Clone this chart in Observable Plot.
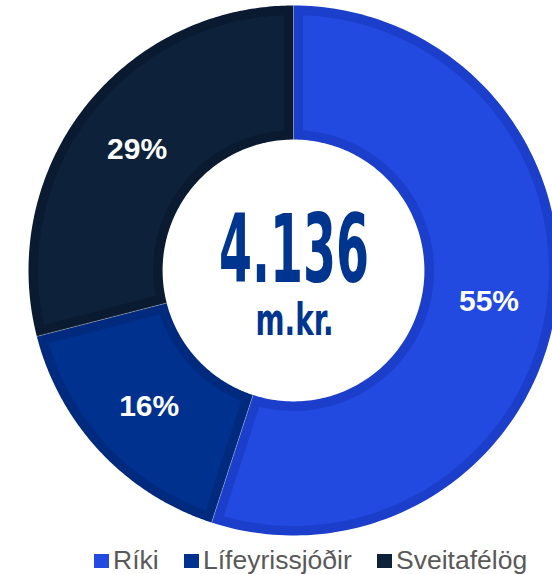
<!DOCTYPE html>
<html>
<head>
<meta charset="utf-8">
<script src="https://cdn.jsdelivr.net/npm/d3@7"></script>
<script src="https://cdn.jsdelivr.net/npm/@observablehq/plot@0.6"></script>
<style>
  html, body { margin: 0; padding: 0; background: #fff; }
  #wrap { position: relative; width: 552px; height: 574px; overflow: hidden; }
  .item { position: absolute; top: 545px; display: flex; align-items: flex-start; font-family: "Liberation Sans", Arial, sans-serif; font-size: 26.5px; line-height: 30px; color: #595959; white-space: nowrap; }
  .sw { width: 15px; height: 14px; margin-top: 9px; margin-right: 4px; }
</style>
</head>
<body>
<div id="wrap"></div>
<script>
// ---- data ----
const slices = ["Ríki", "Lífeyrissjóðir", "Sveitafélög"];
const shares = [55, 16, 29];
const fills = ["#2249E0", "#00318F", "#0D213B"];
const borders = ["#1C3FCB", "#002A7E", "#0A1B31"];
const centerValue = "4.136";
const centerUnit = "m.kr.";

// ---- geometry (unit circle: outer radius 1) ----
const rOuter = 1, rInner = 0.494, inset = 0.036, labelR = 0.747;
const totalShare = d3.sum(shares);
const cum = d3.cumsum(shares);
const ang = (v) => (v / totalShare) * 2 * Math.PI;

function ring(a0, a1, rin, rout, d) {
  const pts = [];
  const n = 160;
  const oA0 = a0 + (d ? Math.asin(d / rout) : 0), oA1 = a1 - (d ? Math.asin(d / rout) : 0);
  const iA0 = a0 + (d ? Math.asin(d / rin) : 0), iA1 = a1 - (d ? Math.asin(d / rin) : 0);
  for (let i = 0; i <= n; i++) {
    const a = oA0 + (oA1 - oA0) * i / n;
    pts.push({x: rout * Math.sin(a), y: rout * Math.cos(a)});
  }
  for (let i = n; i >= 0; i--) {
    const a = iA0 + (iA1 - iA0) * i / n;
    pts.push({x: rin * Math.sin(a), y: rin * Math.cos(a)});
  }
  return pts;
}

const table = slices.map((name, i) => {
  const a0 = ang(cum[i] - shares[i]), a1 = ang(cum[i]);
  const am = (a0 + a1) / 2;
  return {name, share: shares[i], fill: fills[i], border: borders[i], a0, a1,
          lx: labelR * Math.sin(am), ly: labelR * Math.cos(am)};
});

const marks = [];
table.forEach((s) => {
  marks.push(Plot.line(ring(s.a0, s.a1, rInner, rOuter, 0), {x: "x", y: "y", fill: s.border, stroke: "none"}));
  marks.push(Plot.line(ring(s.a0, s.a1, rInner + inset, rOuter - inset, inset), {x: "x", y: "y", fill: s.fill, stroke: "none"}));
});
marks.push(Plot.link(table, {
  x1: (d) => rInner * Math.sin(d.a0), y1: (d) => rInner * Math.cos(d.a0),
  x2: (d) => rOuter * Math.sin(d.a0), y2: (d) => rOuter * Math.cos(d.a0),
  stroke: "#ffffff", strokeOpacity: 0.3, strokeWidth: 1
}));
marks.push(Plot.text(table, {
  x: "lx", y: "ly", text: (d) => d.share + "%",
  fill: "white", fontSize: 30, fontWeight: "bold",
  fontFamily: "Liberation Sans, Arial, sans-serif", lineAnchor: "middle"
}));
marks.push(Plot.text([centerValue], {
  x: 0.002, y: -0.045, text: (d) => d, lineAnchor: "bottom",
  fill: "#00358F", fontSize: 95, fontWeight: "bold", className: "bignum",
  fontFamily: "Liberation Sans Narrow, DejaVu Sans Condensed, Arial Narrow, sans-serif"
}));
marks.push(Plot.text([centerUnit], {
  x: 0.004, y: -0.242, text: (d) => d, lineAnchor: "bottom",
  fill: "#00358F", fontSize: 44, fontWeight: "bold", className: "bigunit",
  fontFamily: "Liberation Sans Narrow, DejaVu Sans Condensed, Arial Narrow, sans-serif"
}));

const chart = Plot.plot({
  width: 552, height: 542,
  margin: 0,
  x: {domain: [-1, 1], range: [28, 558], axis: null},
  y: {domain: [-1, 1], range: [535, 5], axis: null},
  style: {background: "white", overflow: "visible"},
  marks
});

const wrap = document.getElementById("wrap");
wrap.appendChild(chart);

// condense the centre numbers horizontally to the reference widths
function condense(sel, targetW) {
  d3.select(chart).selectAll(sel).each(function () {
    const w = this.getBBox().width;
    const s = Math.min(1, targetW / w);
    const t = this.getAttribute("transform") || "";
    this.setAttribute("transform", t + ` scale(${s},1)`);
  });
}
condense(".bignum text", 150);
condense(".bigunit text", 78);

const legendLeft = [94, 184, 377];
slices.forEach((name, i) => {
  const it = document.createElement("div");
  it.className = "item";
  it.style.left = legendLeft[i] + "px";
  const sw = document.createElement("div");
  sw.className = "sw";
  sw.style.background = fills[i];
  const tx = document.createElement("span");
  tx.textContent = name;
  it.appendChild(sw); it.appendChild(tx);
  wrap.appendChild(it);
});
</script>
</body>
</html>
